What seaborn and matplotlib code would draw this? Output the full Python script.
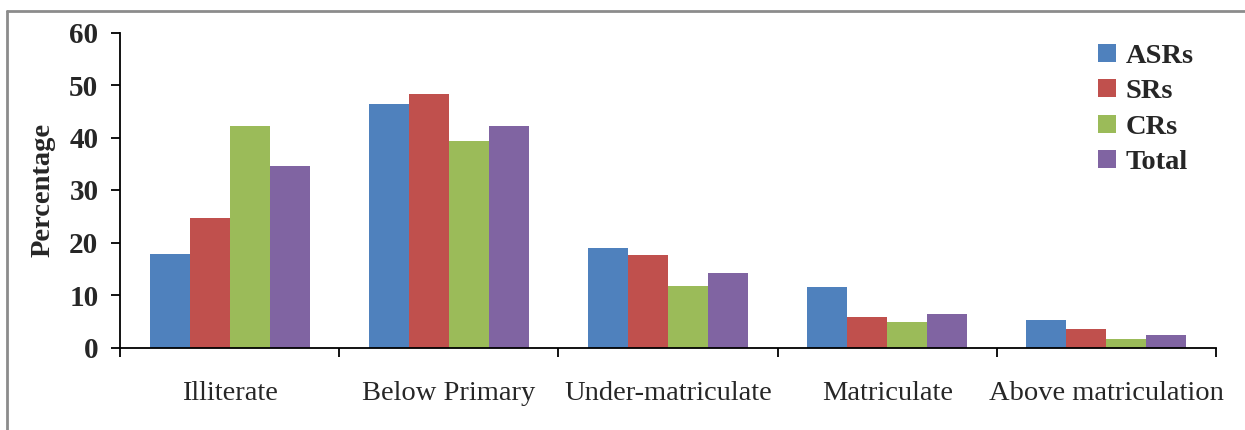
import matplotlib
matplotlib.use("Agg")
import matplotlib.pyplot as plt
import seaborn as sns
import pandas as pd
from matplotlib.lines import Line2D
from matplotlib.patches import Patch

categories = ["Illiterate", "Below Primary", "Under-matriculate", "Matriculate", "Above matriculation"]
series_names = ["ASRs", "SRs", "CRs", "Total"]
asrs = [17.8, 46.4, 18.9, 11.5, 5.2]
srs = [24.7, 48.3, 17.6, 5.8, 3.5]
crs = [42.2, 39.4, 11.8, 4.9, 1.6]
total = [34.6, 42.2, 14.1, 6.3, 2.4]
colors = ["#4F81BD", "#C0504D", "#9BBB59", "#8064A2"]

rows = []
for name, vals in zip(series_names, [asrs, srs, crs, total]):
    for c, v in zip(categories, vals):
        rows.append({"Category": c, "Series": name, "Value": v})
df = pd.DataFrame(rows)

sns.set_theme(style="white")
plt.rcParams["font.family"] = ["Liberation Serif", "DejaVu Serif"]

fig = plt.figure(figsize=(12.45, 4.30), dpi=100)
ax = fig.add_axes([120/1245, 1-347.5/430, (1216-120)/1245, (347.5-32.5)/430])

sns.barplot(data=df, x="Category", y="Value", hue="Series", order=categories,
            hue_order=series_names, palette=colors, width=0.73, ax=ax,
            saturation=1, errorbar=None, legend=False, linewidth=0)

ax.set_ylim(0, 60)
ax.set_xlim(-0.5, len(categories) - 0.5)
ax.set_yticks(range(0, 61, 10))
ax.set_yticklabels([str(v) for v in range(0, 61, 10)], fontsize=21, fontweight="bold")
ax.set_xticks(range(len(categories)))
ax.set_xticklabels(categories, fontsize=20.5)
ax.set_xticks([i - 0.5 for i in range(len(categories) + 1)], minor=True)
ax.tick_params(axis="x", which="major", length=0, pad=24)
ax.tick_params(axis="x", which="minor", length=6.5, width=1.3, color="black", direction="out", bottom=True)
ax.tick_params(axis="y", which="major", length=6.5, width=1.3, color="black", direction="out", left=True, pad=9)
ax.set_xlabel("")
ax.set_ylabel("Percentage", fontsize=20.5, fontweight="bold", labelpad=10)

for s in ["top", "right"]:
    ax.spines[s].set_visible(False)
for s in ["left", "bottom"]:
    ax.spines[s].set_color("black")
    ax.spines[s].set_linewidth(1.3)

handles = [Patch(facecolor=c, edgecolor="none") for c in colors]
ax.legend(handles, series_names, loc="upper right", bbox_to_anchor=(0.99, 1.0),
          frameon=False, prop={"family": "Liberation Serif", "weight": "bold", "size": 20.5},
          handlelength=0.6, handleheight=0.6, handletextpad=0.35, labelspacing=0.36,
          borderaxespad=0.0)

# outer frame (left and top edges visible)
fig.add_artist(Line2D([7/1245, 7/1245], [0, 1-11/430], transform=fig.transFigure,
                      color="#8c8c8c", linewidth=2))
fig.add_artist(Line2D([7/1245, 1], [1-11/430, 1-11/430], transform=fig.transFigure,
                      color="#8c8c8c", linewidth=2))

fig.savefig("out.png", dpi=100)
